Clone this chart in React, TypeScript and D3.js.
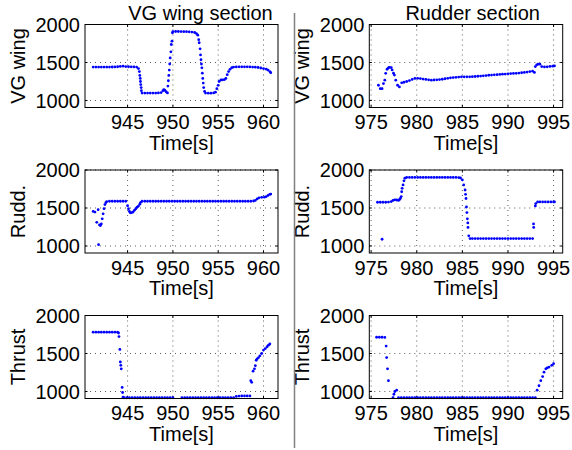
import * as d3 from 'd3';

// time [s], PWM value
const vgWingLeft: [number, number][] = [
  [941.2, 1440], [941.5, 1440], [941.8, 1440], [942.1, 1440], [942.4, 1440], [942.7, 1440], [943.0, 1440],
  [943.3, 1441], [943.6, 1442], [943.9, 1444], [944.2, 1448], [944.5, 1452], [944.8, 1446], [945.1, 1444],
  [945.4, 1443], [945.7, 1442], [946.0, 1440], [946.2, 1420], [946.3, 1380], [946.35, 1330], [946.4, 1290],
  [946.42, 1250], [946.45, 1210], [946.5, 1170], [946.52, 1130], [946.6, 1098], [946.9, 1098], [947.2, 1098],
  [947.5, 1098], [947.8, 1098], [948.1, 1098], [948.4, 1100], [948.7, 1105], [948.9, 1130], [949.0, 1143],
  [949.1, 1135], [949.25, 1115], [949.4, 1100], [949.45, 1190], [949.5, 1260], [949.55, 1330], [949.6, 1400],
  [949.65, 1480], [949.7, 1560], [949.78, 1640], [949.82, 1737], [949.9, 1780], [949.95, 1890], [950.0, 1906],
  [950.3, 1908], [950.6, 1908], [950.9, 1907], [951.2, 1906], [951.5, 1905], [951.8, 1904], [952.1, 1900],
  [952.4, 1895], [952.6, 1880], [952.75, 1860], [952.85, 1800], [952.9, 1760], [953.0, 1680], [953.05, 1600],
  [953.1, 1536], [953.15, 1480], [953.2, 1430], [953.25, 1360], [953.3, 1290], [953.35, 1230], [953.4, 1170],
  [953.5, 1120], [953.6, 1098], [953.9, 1097], [954.2, 1097], [954.5, 1100], [954.7, 1110], [954.85, 1156],
  [955.0, 1200], [955.1, 1250], [955.3, 1270], [955.5, 1272], [955.7, 1275], [955.85, 1290], [956.0, 1340],
  [956.15, 1380], [956.3, 1410], [956.5, 1432], [956.7, 1440], [957.0, 1442], [957.3, 1443], [957.6, 1443],
  [957.9, 1443], [958.2, 1443], [958.5, 1442], [958.8, 1440], [959.1, 1438], [959.4, 1434], [959.7, 1428],
  [960.0, 1420], [960.3, 1412], [960.5, 1400], [960.7, 1380], [960.8, 1366],
];

const ruddLeft: [number, number][] = [
  [941.2, 1455], [941.4, 1446], [941.6, 1312], [941.75, 1478], [941.8, 1018], [941.9, 1277], [942.0, 1270],
  [942.1, 1290], [942.2, 1357], [942.3, 1424], [942.4, 1491], [942.5, 1545], [942.6, 1570], [942.7, 1585],
  [943.0, 1589], [943.3, 1589], [943.6, 1589], [943.9, 1589], [944.2, 1589], [944.5, 1589], [944.8, 1589],
  [945.0, 1530], [945.1, 1490], [945.2, 1455], [945.3, 1437], [945.45, 1440], [945.6, 1446], [945.75, 1470],
  [945.9, 1490], [946.05, 1510], [946.2, 1525], [946.35, 1550], [946.45, 1575], [946.6, 1589], [946.9, 1589],
  [947.2, 1589], [947.5, 1589], [947.8, 1589], [948.1, 1589], [948.4, 1589], [948.7, 1589], [949.0, 1589],
  [949.3, 1589], [949.6, 1589], [949.9, 1589], [950.2, 1589], [950.5, 1589], [950.8, 1589], [951.1, 1589],
  [951.4, 1589], [951.7, 1589], [952.0, 1589], [952.3, 1589], [952.6, 1589], [952.9, 1589], [953.2, 1589],
  [953.5, 1589], [953.8, 1589], [954.1, 1589], [954.4, 1589], [954.7, 1589], [955.0, 1589], [955.3, 1589],
  [955.6, 1589], [955.9, 1589], [956.2, 1589], [956.5, 1589], [956.8, 1589], [957.1, 1589], [957.4, 1589],
  [957.7, 1589], [958.0, 1589], [958.3, 1589], [958.6, 1589], [958.9, 1592], [959.1, 1600], [959.3, 1620],
  [959.5, 1634], [959.8, 1640], [960.1, 1643], [960.3, 1650], [960.5, 1665], [960.7, 1680], [960.8, 1683],
];

const thrustLeft: [number, number][] = [
  [941.2, 1781], [941.5, 1781], [941.8, 1781], [942.1, 1781], [942.4, 1781], [942.7, 1781], [943.0, 1781],
  [943.3, 1781], [943.6, 1781], [943.9, 1781], [944.0, 1770], [944.05, 1723], [944.15, 1554], [944.2, 1388],
  [944.25, 1344], [944.3, 1299], [944.4, 1054], [944.45, 987], [944.5, 925], [944.6, 918], [944.9, 918],
  [945.2, 918], [945.5, 918], [945.8, 918], [946.1, 918], [946.4, 918], [946.7, 918], [947.0, 918],
  [947.3, 918], [947.6, 918], [947.9, 918], [948.2, 918], [948.5, 918], [948.8, 918], [949.1, 918],
  [949.4, 918], [949.7, 918], [950.0, 918], [951.0, 918], [951.3, 918], [951.6, 918], [951.9, 918],
  [952.2, 918], [952.5, 918], [952.8, 918], [953.1, 918], [953.4, 918], [953.7, 918], [954.0, 918],
  [954.3, 918], [954.6, 918], [954.9, 918], [955.2, 918], [955.5, 918], [955.8, 918], [956.1, 918],
  [956.4, 918], [956.7, 918], [957.0, 935], [957.3, 940], [957.6, 942], [957.9, 942], [958.2, 942],
  [958.5, 942], [958.6, 1143], [958.7, 1121], [958.85, 1268], [959.0, 1299], [959.1, 1340], [959.2, 1411],
  [959.3, 1430], [959.45, 1446], [959.6, 1470], [959.8, 1500], [960.0, 1545], [960.2, 1565], [960.4, 1589],
  [960.55, 1610], [960.7, 1625],
];

const vgWingRight: [number, number][] = [
  [975.8, 1201], [976.0, 1156], [976.2, 1156], [976.35, 1223], [976.5, 1268], [976.6, 1357], [976.75, 1411],
  [976.9, 1430], [977.0, 1437], [977.2, 1433], [977.3, 1402], [977.45, 1360], [977.55, 1335], [977.7, 1268],
  [977.9, 1201], [978.1, 1179], [978.35, 1232], [978.6, 1240], [978.9, 1250], [979.2, 1262], [979.5, 1278],
  [979.8, 1290], [980.1, 1292], [980.4, 1288], [980.7, 1282], [981.0, 1277], [981.3, 1272], [981.6, 1268],
  [981.9, 1270], [982.2, 1272], [982.5, 1275], [982.8, 1280], [983.1, 1286], [983.4, 1292], [983.7, 1298],
  [984.0, 1302], [984.3, 1305], [984.6, 1308], [984.9, 1312], [985.2, 1312], [985.5, 1311], [985.8, 1312],
  [986.1, 1313], [986.4, 1316], [986.7, 1319], [987.0, 1321], [987.3, 1325], [987.6, 1328], [987.9, 1332],
  [988.2, 1335], [988.5, 1338], [988.8, 1340], [989.1, 1343], [989.4, 1346], [989.7, 1348], [990.0, 1351],
  [990.3, 1354], [990.6, 1356], [990.9, 1358], [991.2, 1361], [991.5, 1365], [991.8, 1369], [992.1, 1374],
  [992.4, 1380], [992.7, 1386], [992.9, 1370], [993.0, 1446], [993.15, 1469], [993.3, 1478], [993.5, 1478],
  [993.7, 1446], [994.0, 1442], [994.3, 1443], [994.6, 1448], [994.9, 1452], [995.1, 1455],
];

const ruddRight: [number, number][] = [
  [975.7, 1576], [976.0, 1576], [976.2, 1089], [976.3, 1576], [976.6, 1576], [976.9, 1578], [977.2, 1585],
  [977.4, 1600], [977.6, 1607], [977.8, 1605], [978.0, 1600], [978.1, 1610], [978.2, 1625], [978.3, 1650],
  [978.35, 1714], [978.4, 1759], [978.5, 1804], [978.6, 1857], [978.7, 1893], [978.9, 1902], [979.2, 1902],
  [979.5, 1902], [979.8, 1902], [980.1, 1902], [980.4, 1902], [980.7, 1902], [981.0, 1902], [981.3, 1902],
  [981.6, 1902], [981.9, 1902], [982.2, 1902], [982.5, 1902], [982.8, 1902], [983.1, 1902], [983.4, 1902],
  [983.7, 1902], [984.0, 1902], [984.3, 1902], [984.6, 1900], [984.8, 1895], [985.0, 1870], [985.15, 1804],
  [985.3, 1737], [985.35, 1680], [985.4, 1625], [985.45, 1513], [985.5, 1440], [985.55, 1357], [985.6, 1304],
  [985.62, 1245], [985.7, 1134], [985.85, 1098], [986.1, 1098], [986.4, 1098], [986.7, 1098], [987.0, 1098],
  [987.3, 1098], [987.6, 1098], [987.9, 1098], [988.2, 1098], [988.5, 1098], [988.8, 1098], [989.1, 1098],
  [989.4, 1098], [989.7, 1098], [990.0, 1098], [990.3, 1098], [990.6, 1098], [990.9, 1098], [991.2, 1098],
  [991.5, 1098], [991.8, 1098], [992.1, 1098], [992.4, 1098], [992.7, 1098], [992.8, 1290], [992.82, 1245],
  [993.0, 1527], [993.05, 1558], [993.25, 1580], [993.5, 1580], [993.8, 1580], [994.1, 1580], [994.4, 1580],
  [994.7, 1580], [995.0, 1580], [995.1, 1580],
];

const thrustRight: [number, number][] = [
  [975.6, 1714], [975.9, 1714], [976.2, 1714], [976.5, 1712], [976.65, 1598], [976.7, 1446], [976.8, 1299],
  [976.9, 1143], [977.4, 920], [977.5, 964], [977.6, 1000], [977.8, 1018], [978.0, 918], [978.3, 918],
  [978.6, 918], [978.9, 918], [979.2, 918], [979.5, 918], [979.8, 918], [980.1, 918], [980.4, 918],
  [980.7, 918], [981.0, 918], [981.3, 918], [981.6, 918], [981.9, 918], [982.2, 918], [982.5, 918],
  [982.8, 918], [983.1, 918], [983.4, 918], [983.7, 918], [984.0, 918], [984.3, 918], [984.6, 918],
  [984.9, 918], [985.2, 918], [985.5, 918], [985.8, 918], [986.1, 918], [986.4, 918], [986.7, 918],
  [987.0, 918], [987.3, 918], [987.6, 918], [987.9, 918], [988.2, 918], [988.5, 918], [988.8, 918],
  [989.1, 918], [989.4, 918], [989.7, 918], [990.0, 918], [990.3, 918], [990.6, 918], [990.9, 918],
  [991.2, 918], [991.5, 918], [991.8, 918], [992.1, 918], [992.4, 918], [992.7, 918], [993.0, 918],
  [993.2, 1018], [993.4, 1076], [993.6, 1143], [993.8, 1196], [993.95, 1254], [994.15, 1299], [994.3, 1310],
  [994.5, 1321], [994.8, 1344], [995.0, 1366],
];

const yTicks = [1000, 1500, 2000];
const leftTicks = [945, 950, 955, 960];
const rightTicks = [975, 980, 985, 990, 995];
const rowLabels = ['VG wing', 'Rudd.', 'Thrust'];
const titles = ['VG wing section', 'Rudder section'];

const FONT = '"Liberation Sans", Arial, Helvetica, sans-serif';
const FS = 20;
const PANEL_H = 83;
const rowTops = [24.5, 170, 315.5];
const cols = [
  { x0: 85, x1: 278, domain: [940.3, 961.6], ticks: leftTicks, titleX: 200.5 },
  { x0: 369.3, x1: 562.7, domain: [974.8, 996], ticks: rightTicks, titleX: 472.7 },
];

function Panel({ data, col, top, label }: { data: [number, number][]; col: typeof cols[0]; top: number; label: string }) {
  const x = d3.scaleLinear().domain(col.domain).range([col.x0, col.x1]);
  const y = d3.scaleLinear().domain([908, 2000]).range([top + PANEL_H, top]);
  const bottom = top + PANEL_H;
  return (
    <g>
      {/* grid */}
      {col.ticks.map(t => (
        <line key={'gx' + t} x1={x(t)} x2={x(t)} y1={top} y2={bottom} stroke="#333" strokeWidth={0.8} strokeDasharray="1 4" />
      ))}
      {yTicks.map(t => (
        <line key={'gy' + t} x1={col.x0} x2={col.x1} y1={y(t)} y2={y(t)} stroke="#333" strokeWidth={0.8} strokeDasharray="1 4" />
      ))}
      {/* tick marks */}
      {col.ticks.map(t => (
        <g key={'tx' + t}>
          <line x1={x(t)} x2={x(t)} y1={bottom} y2={bottom - 2.5} stroke="#000" />
          <line x1={x(t)} x2={x(t)} y1={top} y2={top + 2.5} stroke="#000" />
        </g>
      ))}
      {yTicks.map(t => (
        <g key={'ty' + t}>
          <line x1={col.x0} x2={col.x0 + 2.5} y1={y(t)} y2={y(t)} stroke="#000" />
          <line x1={col.x1} x2={col.x1 - 2.5} y1={y(t)} y2={y(t)} stroke="#000" />
        </g>
      ))}
      {/* data */}
      {data.map(([t, v], i) => (
        <circle key={i} cx={x(t)} cy={y(v)} r={1.4} fill="#0000ff" />
      ))}
      <rect x={col.x0} y={top} width={col.x1 - col.x0} height={PANEL_H} fill="none" stroke="#000" strokeWidth={1} />
      {/* tick labels */}
      {col.ticks.map(t => (
        <text key={'lx' + t} x={x(t)} y={bottom + 21.5} textAnchor="middle" fontSize={FS} fontFamily={FONT}>{t}</text>
      ))}
      {yTicks.map(t => (
        <text key={'ly' + t} x={col.x0 - 5} y={y(t)} dy="0.36em" textAnchor="end" fontSize={FS} fontFamily={FONT}>{t}</text>
      ))}
      <text x={(col.x0 + col.x1) / 2} y={bottom + 42} textAnchor="middle" fontSize={FS} fontFamily={FONT}>Time[s]</text>
      <text transform={`translate(${col.x0 - 60},${top + PANEL_H / 2}) rotate(-90)`} textAnchor="middle" fontSize={FS} fontFamily={FONT}>{label}</text>
    </g>
  );
}

export default function App() {
  const series = [
    [vgWingLeft, ruddLeft, thrustLeft],
    [vgWingRight, ruddRight, thrustRight],
  ];
  return (
    <svg width={572} height={450} style={{ position: 'absolute', left: 0, top: 0, background: '#fff' }}>
      <rect width={572} height={450} fill="#fff" />
      {cols.map((col, ci) => (
        <g key={ci}>
          <text x={col.titleX} y={20} textAnchor="middle" fontSize={FS} fontFamily={FONT}>{titles[ci]}</text>
          {rowTops.map((top, ri) => (
            <Panel key={ri} data={series[ci][ri]} col={col} top={top} label={rowLabels[ri]} />
          ))}
        </g>
      ))}
      <line x1={294.5} x2={294.5} y1={13} y2={448} stroke="#808080" strokeWidth={1.5} />
    </svg>
  );
}
